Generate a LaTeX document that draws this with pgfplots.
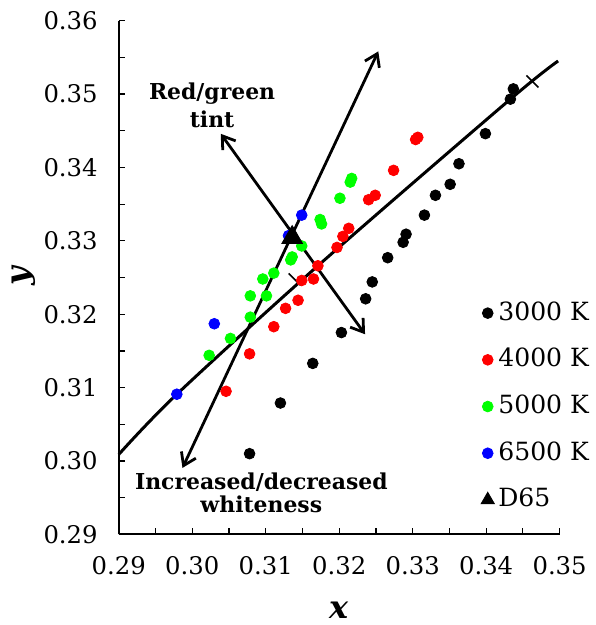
\documentclass[border=0pt]{standalone}
\usepackage{fontspec}
\setmainfont{DejaVu Serif}
\usepackage{pgfplots}
\pgfplotsset{compat=1.18}
\usetikzlibrary{arrows.meta}
\begin{document}
\begin{tikzpicture}[font=\fontsize{12.2}{15}\selectfont]
\begin{axis}[
  scale only axis, width=221.35pt, height=258pt,
  xmin=0.29, xmax=0.35, ymin=0.29, ymax=0.36,
  clip=false,
  axis lines=left, axis line style={-, line width=1pt},
  xtick={0.29,0.30,0.31,0.32,0.33,0.34,0.35},
  xticklabels={0.29,0.30,0.31,0.32,0.33,0.34,0.35},
  ytick={0.29,0.30,0.31,0.32,0.33,0.34,0.35,0.36},
  yticklabels={0.29,0.30,0.31,0.32,0.33,0.34,0.35,0.36},
  scaled ticks=false,
  minor x tick num=1, minor y tick num=1,
  tick align=inside, major tick length=3pt, minor tick length=3pt,
  tick style={line width=0.6pt, black},
  xticklabel style={yshift=-7.3pt},
  yticklabel style={xshift=-7.1pt},
  xlabel={\textbf{\textit{x}}},
  xlabel style={at={(axis description cs:0.5,-0.1473)}, anchor=center, font=\fontsize{16}{20}\selectfont},
  ylabel={\textbf{\textit{y}}},
  ylabel style={at={(axis description cs:-0.215,0.505)}, anchor=center, font=\fontsize{16}{20}\selectfont},
  legend style={draw=none, fill=none, at={(rel axis cs:0.821,0.4644)}, anchor=north west,
    inner sep=0pt, row sep=6.45pt, column sep=0pt,
    nodes={inner sep=2pt, text height=10pt, text depth=3pt},
    font=\fontsize{12.6}{15}\selectfont},
  legend cell align=left,
  legend image code/.code={\draw[#1] plot coordinates {(0pt,0pt)};},
]
% locus line
\addplot[forget plot, black, line width=1.5pt, smooth] coordinates {
  (0.2900,0.3009) (0.2979,0.3091) (0.3171,0.3266) (0.3433,0.3493) (0.3498,0.3545)};
% small ticks on the locus
\addplot[forget plot, only marks, black, mark=|, mark size=4.25pt, mark options={rotate=45, line width=0.8pt}] coordinates {
  (0.3463,0.3517) (0.31394,0.32474)};
% arrows
\addplot[forget plot, black, line width=1.4pt, arrows={Straight Barb[length=6pt,width=8pt]-Straight Barb[length=6pt,width=8pt]}] coordinates {
  (0.29867,0.29906) (0.32532,0.35581)};
\addplot[forget plot, black, line width=1.4pt, arrows={Straight Barb[length=6pt,width=8pt]-Straight Barb[length=6pt,width=8pt]}] coordinates {
  (0.30388,0.34458) (0.32352,0.31727)};

\addplot[only marks, mark=*, mark size=2.7pt, draw=black, fill=black] coordinates {
 (0.3078,0.3010) (0.3120,0.3079) (0.3164,0.3133) (0.3203,0.3175) (0.3236,0.3221)
 (0.3245,0.3244) (0.3266,0.3277) (0.3287,0.3298) (0.3291,0.3309) (0.3316,0.3335)
 (0.3331,0.3362) (0.3351,0.3377) (0.3363,0.3405) (0.3399,0.3446) (0.3433,0.3493)
 (0.3437,0.3507)};
\addlegendentry{3000 K}
\addplot[only marks, mark=*, mark size=2.7pt, draw=red, fill=red] coordinates {
 (0.3046,0.3095) (0.3078,0.3146) (0.3111,0.3183) (0.3127,0.3208) (0.3144,0.3219)
 (0.3149,0.3246) (0.3165,0.3248) (0.3171,0.3266) (0.3197,0.3291) (0.3205,0.3306)
 (0.3213,0.3317) (0.3240,0.3356) (0.3249,0.3362) (0.3274,0.3396) (0.3304,0.3438)
 (0.3307,0.3441)};
\addlegendentry{4000 K}
\addplot[only marks, mark=*, mark size=2.7pt, draw=green, fill=green] coordinates {
 (0.3023,0.3144) (0.3052,0.3167) (0.3079,0.3196) (0.3079,0.3225) (0.3101,0.3225)
 (0.3096,0.3248) (0.3111,0.3256) (0.3134,0.3274) (0.3136,0.3278) (0.3149,0.3293)
 (0.3174,0.3329) (0.3176,0.3323) (0.3201,0.3358) (0.3215,0.3380) (0.3217,0.3385)};
\addlegendentry{5000 K}
\addplot[only marks, mark=*, mark size=2.7pt, draw=blue, fill=blue] coordinates {
 (0.2979,0.3091) (0.3030,0.3187) (0.3131,0.3307) (0.3149,0.3335)};
\addlegendentry{6500 K}
\addlegendimage{only marks, mark=triangle*, mark size=3.85pt, black}
\addlegendentry{D65}
\addplot[forget plot, only marks, mark=triangle*, mark size=6pt, black] coordinates {(0.3136,0.33045)};

\node[font=\fontsize{11}{14.2}\selectfont\bfseries, align=center, anchor=north, inner sep=0pt]
  at (axis cs:0.30270,0.35164) {Red/green\\tint};
\node[font=\fontsize{11}{11.35}\selectfont\bfseries, align=center, anchor=north, inner sep=0pt]
  at (axis cs:0.30940,0.29838) {Increased/decreased\\whiteness};
\end{axis}
\path (current axis.south west) ++(-59.65pt,-44.15pt) rectangle ++(299pt,312.5pt);
\end{tikzpicture}
\end{document}
